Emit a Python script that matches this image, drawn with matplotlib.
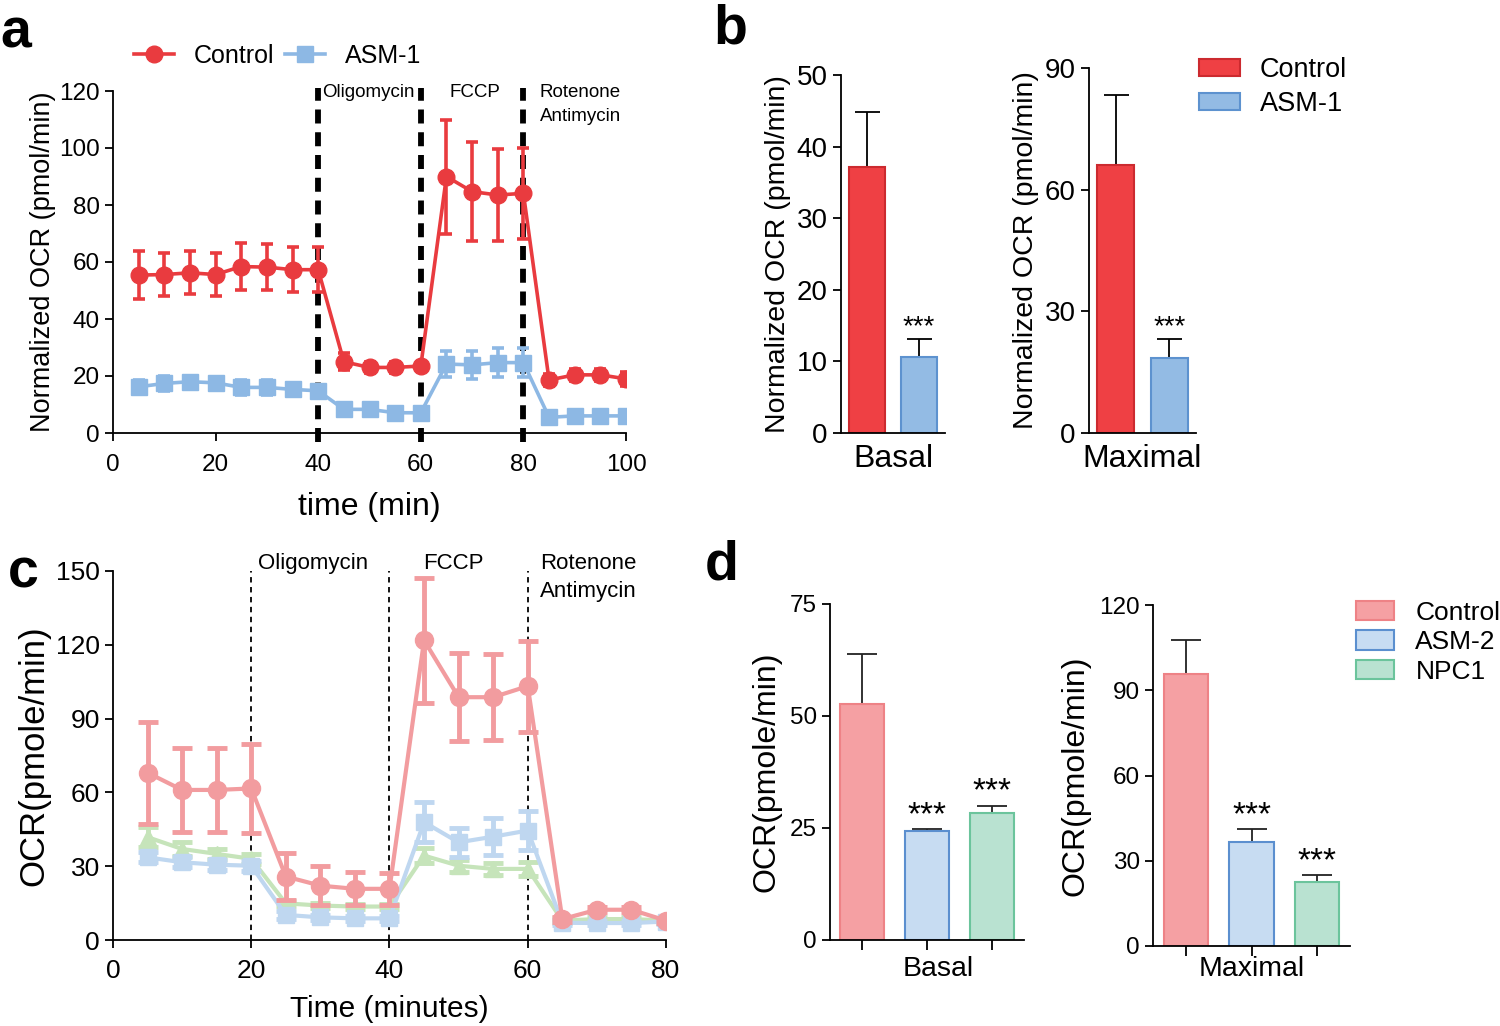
import matplotlib
matplotlib.use("Agg")
import matplotlib.pyplot as plt
from matplotlib.lines import Line2D
from matplotlib.patches import Patch

plt.rcParams["font.family"] = ["Liberation Sans", "DejaVu Sans"]
plt.rcParams["axes.linewidth"] = 1.3
plt.rcParams["xtick.major.width"] = 1.3
plt.rcParams["ytick.major.width"] = 1.3
plt.rcParams["xtick.major.size"] = 6
plt.rcParams["ytick.major.size"] = 6

# ---- panel a : Seahorse trace, Control vs ASM-1 ----
time_a = [5, 10, 15, 20, 25, 30, 35, 40, 45, 50, 55, 60, 65, 70, 75, 80, 85, 90, 95, 100]
ctrl_a = [55.4, 55.6, 56.2, 55.6, 58.4, 58.2, 57.3, 57.3, 25, 23, 23, 23.5,
          90, 84.7, 83.5, 84.1, 18.6, 20.4, 20.4, 19]
ctrl_a_err = [8.4, 7.7, 7.5, 7.5, 8.1, 8, 8, 7.8, 3, 2, 2, 1.5,
              20, 17.5, 16, 16, 2, 2, 2, 2.5]
asm1_a = [16.2, 17.4, 18, 17.6, 16, 16, 15.3, 14.8, 8.3, 8.3, 7.1, 7.1,
          24.2, 23.9, 24.7, 24.7, 5.5, 6, 6, 6]
asm1_a_err = [2.5, 2.5, 2, 2, 2.5, 2.5, 2, 2, 1, 1, 1, 1,
              4.5, 5, 5, 5, 1, 1, 1, 1]
inject_a = [40, 60, 80]

# ---- panel b : Basal / Maximal bars ----
groups_b = ["Control", "ASM-1"]
basal_b = [37.2, 10.6]
basal_b_err = [7.7, 2.5]
max_b = [66.0, 18.5]
max_b_err = [17.3, 4.7]

# ---- panel c : Seahorse trace, Control / ASM-2 / NPC1 ----
time_c = [5, 10, 15, 20, 25, 30, 35, 40, 45, 50, 55, 60, 65, 70, 75, 80]
ctrl_c = [68, 61, 61, 61.6, 25.8, 22.1, 20.8, 20.8, 121.8, 98.7, 98.7, 103.2, 8.5, 12.3, 12.3, 7.9]
ctrl_c_err = [20.7, 17, 17, 18, 9.4, 8, 6.7, 6.5, 25.5, 18, 17.5, 18.5, 1, 1, 1, 1]
asm2_c = [33.6, 31.6, 30.6, 30.2, 10.2, 9.2, 8.8, 8.8, 47.9, 39.7, 42, 44.5, 7, 6.9, 6.9, 7.5]
asm2_c_err = [2, 2, 2, 2, 1.5, 1, 1, 1, 8, 6, 7.5, 8, 1, 1, 1, 1]
npc1_c = [41.8, 37, 35, 33, 14.9, 14, 13.6, 13.6, 34.3, 30.2, 28.9, 28.9, 7.9, 8.5, 8.5, 7.9]
npc1_c_err = [4, 3, 2, 2, 1, 1, 1, 1, 3, 2.5, 2.5, 3, 1, 1, 1, 1]
inject_c = [20, 40, 60]

# ---- panel d : Basal / Maximal bars ----
groups_d = ["Control", "ASM-2", "NPC1"]
basal_d = [52.7, 24.4, 28.3]
basal_d_err = [11.1, 0.4, 1.7]
max_d = [95.7, 36.5, 22.5]
max_d_err = [11.9, 4.5, 2.4]

red = "#E93B3F"
blue = "#8DB8E4"
bar_b_fill = ["#EF4044", "#93BBE4"]
bar_b_edge = ["#CC2A2F", "#5D92CF"]
pink = "#F29C9F"
lblue = "#BFD7F0"
lgreen = "#C6E4BA"
bar_d_fill = ["#F5A0A3", "#C7DCF2", "#B9E2D1"]
bar_d_edge = ["#EE8286", "#5B8FCF", "#6BC49C"]

W, H = 1500, 1026
fig = plt.figure(figsize=(15, 10.26), dpi=100)


def rect(x0, x1, ytop, ybot):
    return [x0 / W, (H - ybot) / H, (x1 - x0) / W, (ybot - ytop) / H]


def clean(ax):
    ax.spines["top"].set_visible(False)
    ax.spines["right"].set_visible(False)


# ================= a =================
ax = fig.add_axes(rect(113, 626, 91, 433))
clean(ax)
for x in inject_a:
    ax.plot([x, x], [-3, 121], color="black", lw=4.2, ls=(0, (2.4, 1.5)),
            zorder=1, clip_on=False)
ax.errorbar(time_a, asm1_a, yerr=asm1_a_err, color=blue, lw=2.6, marker="s", ms=11,
            elinewidth=2.6, capsize=4, capthick=2.6, zorder=3)
ax.errorbar(time_a, ctrl_a, yerr=ctrl_a_err, color=red, lw=2.6, marker="o", ms=12,
            elinewidth=2.6, capsize=4, capthick=2.6, zorder=4)
ax.set_xlim(0, 100)
ax.set_ylim(0, 120)
ax.set_xticks([0, 20, 40, 60, 80, 100])
ax.set_yticks([0, 20, 40, 60, 80, 100, 120])
ax.tick_params(labelsize=17.5)
ax.tick_params(axis="x", pad=9)
ax.set_xlabel("time (min)", fontsize=23, labelpad=12)
ax.set_ylabel("Normalized OCR (pmol/min)", fontsize=19.5, labelpad=2)
ax.text(40.8, 119.5, "Oligomycin", fontsize=13.5, va="center", ha="left")
ax.text(70.5, 119.5, "FCCP", fontsize=13.5, va="center", ha="center")
ax.text(83.2, 119.5, "Rotenone", fontsize=13.5, va="center", ha="left")
ax.text(83.2, 111.2, "Antimycin", fontsize=13.5, va="center", ha="left")
handles_a = [Line2D([], [], color=red, lw=2.6, marker="o", ms=12),
             Line2D([], [], color=blue, lw=2.6, marker="s", ms=11)]
fig.legend(handles_a, groups_b, loc="center left", bbox_to_anchor=(134 / W, (H - 56) / H),
           ncol=2, frameon=False, fontsize=18, handlelength=1.6, handletextpad=0.8,
           columnspacing=0.4, borderaxespad=0, borderpad=0)

# ================= b =================
for box, vals, errs, top, step, name in [((841, 945, 75, 433), basal_b, basal_b_err, 50, 10, "Basal"),
                                          ((1089, 1196, 68, 433), max_b, max_b_err, 90, 30, "Maximal")]:
    ax = fig.add_axes(rect(*box))
    clean(ax)
    pos = list(range(len(vals)))
    ax.bar(pos, vals, width=0.7, color=bar_b_fill, edgecolor=bar_b_edge, lw=1.5, zorder=2)
    ax.errorbar(pos, vals, yerr=[[0] * len(errs), errs], fmt="none", ecolor="black",
                elinewidth=1.3, capsize=9, capthick=1.3, zorder=1)
    ax.text(pos[1], vals[1] + errs[1] - top * 0.004, "***", ha="center", va="bottom", fontsize=20)
    ax.set_xlim(-0.5, 1.5)
    ax.set_ylim(0, top)
    ax.set_yticks(list(range(0, top + 1, step)))
    ax.set_xticks([0.5])
    ax.set_xticklabels([name])
    ax.tick_params(axis="x", length=0, labelsize=23, pad=8)
    ax.tick_params(axis="y", labelsize=20)
    ax.set_ylabel("Normalized OCR (pmol/min)", fontsize=20.5, labelpad=4)
fig.legend([Patch(facecolor=c, edgecolor=e, lw=1.5) for c, e in zip(bar_b_fill, bar_b_edge)],
           groups_b, loc="upper left", bbox_to_anchor=(1199 / W, (H - 57) / H), frameon=False,
           fontsize=19.5, handlelength=1.5, handleheight=0.6, handletextpad=0.75,
           labelspacing=0.3, borderaxespad=0, borderpad=0)

# ================= c =================
ax = fig.add_axes(rect(113, 666, 571, 940))
clean(ax)
for x in inject_c:
    ax.plot([x, x], [0, 150], color="black", lw=1.3, ls=(0, (3, 2.5)), zorder=1)
ax.errorbar(time_c, npc1_c, yerr=npc1_c_err, color=lgreen, lw=3, marker="^", ms=12,
            elinewidth=3.5, capsize=7, capthick=3.5, zorder=2)
ax.errorbar(time_c, asm2_c, yerr=asm2_c_err, color=lblue, lw=3, marker="s", ms=12,
            elinewidth=3.5, capsize=7, capthick=3.5, zorder=3)
ax.errorbar(time_c, ctrl_c, yerr=ctrl_c_err, color=pink, lw=3, marker="o", ms=13,
            elinewidth=3.5, capsize=7, capthick=3.5, zorder=4)
ax.set_xlim(0, 80)
ax.set_ylim(0, 150)
ax.set_xticks([0, 20, 40, 60, 80])
ax.set_yticks([0, 30, 60, 90, 120, 150])
ax.tick_params(labelsize=19)
ax.tick_params(axis="x", pad=8)
ax.set_xlabel("Time (minutes)", fontsize=21.5, labelpad=8)
ax.set_ylabel("OCR(pmole/min)", fontsize=25, labelpad=4)
ax.text(21, 153, "Oligomycin", fontsize=16, va="center", ha="left")
ax.text(49.3, 153, "FCCP", fontsize=16, va="center", ha="center")
ax.text(61.8, 153, "Rotenone", fontsize=16, va="center", ha="left")
ax.text(61.8, 141.5, "Antimycin", fontsize=16, va="center", ha="left")

# ================= d =================
for box, vals, errs, top, step, name, lx in [((830, 1024, 604, 940), basal_d, basal_d_err, 75, 25, "Basal", 1.17),
                                              ((1153, 1350, 605, 946), max_d, max_d_err, 120, 30, "Maximal", 1.0)]:
    ax = fig.add_axes(rect(*box))
    clean(ax)
    pos = list(range(len(vals)))
    ax.bar(pos, vals, width=0.68, color=bar_d_fill, edgecolor=bar_d_edge, lw=1.5, zorder=2)
    ax.errorbar(pos, vals, yerr=[[0] * len(errs), errs], fmt="none", ecolor="#222222",
                elinewidth=1.3, capsize=11, capthick=1.3, zorder=1)
    for p in pos[1:]:
        ax.text(p, vals[p] + errs[p] - top * 0.006, "***", ha="center", va="bottom", fontsize=24)
    ax.set_xlim(-0.5, 2.5)
    ax.set_ylim(0, top)
    ax.set_yticks(list(range(0, top + 1, step)))
    ax.set_xticks(pos)
    ax.set_xticklabels([])
    ax.tick_params(axis="x", length=7)
    ax.tick_params(axis="y", labelsize=17.5)
    # group label sits at the same height under both bar panels
    fig.text((box[0] + (box[1] - box[0]) * (lx + 0.5) / 3) / W, 1 - 969 / H, name,
             ha="center", va="center", fontsize=20.5)
    ax.set_ylabel("OCR(pmole/min)", fontsize=23, labelpad=6)
fig.legend([Patch(facecolor=c, edgecolor=e, lw=1.5) for c, e in zip(bar_d_fill, bar_d_edge)],
           groups_d, loc="upper left", bbox_to_anchor=(1356 / W, (H - 601) / H), frameon=False,
           fontsize=19, handlelength=1.45, handleheight=0.75, handletextpad=0.8,
           labelspacing=0.2, borderaxespad=0, borderpad=0)

# panel letters
for letter, x, y in [("a", 0, 8), ("b", 713, 3), ("c", 8, 548), ("d", 705, 540)]:
    fig.text(x / W, 1 - y / H, letter, fontsize=40, fontweight="bold", ha="left", va="top")

fig.savefig("out.png", dpi=100)
